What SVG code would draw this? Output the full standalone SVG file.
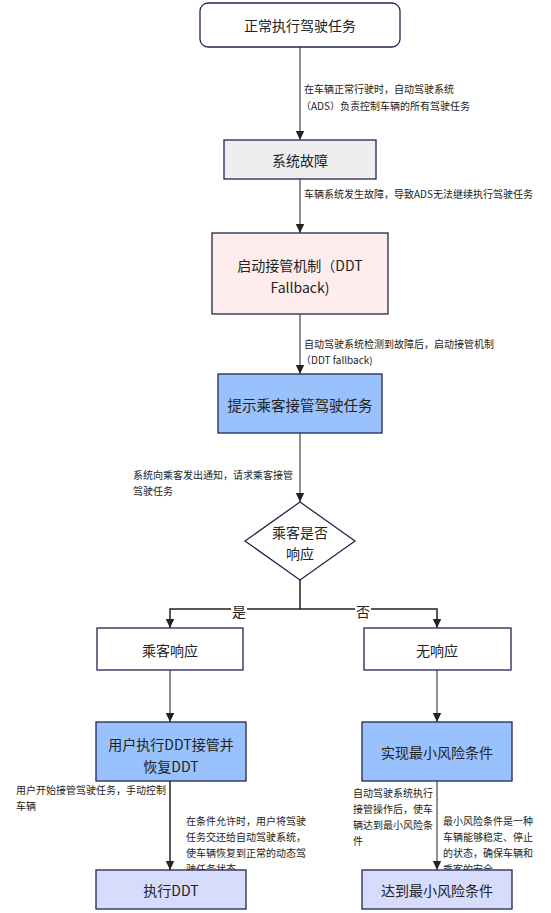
<svg xmlns="http://www.w3.org/2000/svg" width="551" height="913" viewBox="0 0 551 913">
<style>
.node{stroke:#23264f;stroke-width:1.3}
.t{font-family:"Noto Sans CJK SC","Noto Sans",sans-serif;font-size:14px;fill:#222;text-anchor:middle;dominant-baseline:central}
.l{font-family:"Noto Sans CJK SC","Noto Sans",sans-serif;font-size:10px;fill:#222;dominant-baseline:central}
.c{fill:none;stroke:#6b6b6b;stroke-width:1.5}
.ck{fill:none;stroke:#222;stroke-width:1.5}
</style>
<defs>
<marker id="ah" markerWidth="10" markerHeight="10" refX="9" refY="5" orient="auto" markerUnits="userSpaceOnUse">
<path d="M0,0.8 L9,5 L0,9.2 Z" fill="#222"/>
</marker>
</defs>
<rect width="551" height="913" fill="#fff"/>
<g id="connectors">
<path class="c" d="M300,47 V140" marker-end="url(#ah)"/>
<path class="c" d="M300,179 V233" marker-end="url(#ah)"/>
<path class="c" d="M300,314 V374" marker-end="url(#ah)"/>
<path class="c" d="M300,433 V502" marker-end="url(#ah)"/>
<path class="ck" d="M300,580 V609 H170 V628" marker-end="url(#ah)"/>
<path class="ck" d="M300,609 H437 V628" marker-end="url(#ah)"/>
<path class="c" d="M170,670 V722" marker-end="url(#ah)"/>
<path class="c" d="M437,670 V722" marker-end="url(#ah)"/>
<path class="ck" d="M170,781 V870" marker-end="url(#ah)"/>
<path class="c" d="M437,781 V870" marker-end="url(#ah)"/>
<rect x="231" y="603" width="16" height="16" fill="#fff"/>
<rect x="355" y="603" width="16" height="16" fill="#fff"/>
<text class="t" x="239" y="611">是</text>
<text class="t" x="363" y="611">否</text>
<text class="l" x="304" y="88">在车辆正常行驶时，自动驾驶系统</text>
<text class="l" x="301" y="105">（ADS）负责控制车辆的所有驾驶任务</text>
<text class="l" x="304" y="193">车辆系统发生故障，导致ADS无法继续执行驾驶任务</text>
<text class="l" x="304" y="343">自动驾驶系统检测到故障后，启动接管机制</text>
<text class="l" x="301" y="359">（DDT fallback)</text>
<text class="l" x="133" y="474">系统向乘客发出通知，请求乘客接管</text>
<text class="l" x="133" y="490">驾驶任务</text>
<text class="l" x="16" y="789">用户开始接管驾驶任务，手动控制</text>
<text class="l" x="16" y="805">车辆</text>
<text class="l" x="186" y="820">在条件允许时，用户将驾驶</text>
<text class="l" x="186" y="836">任务交还给自动驾驶系统，</text>
<text class="l" x="186" y="852">使车辆恢复到正常的动态驾</text>
<text class="l" x="186" y="868">驶任务状态</text>
<text class="l" x="353" y="792">自动驾驶系统执行</text>
<text class="l" x="353" y="808">接管操作后，使车</text>
<text class="l" x="353" y="824">辆达到最小风险条</text>
<text class="l" x="353" y="840">件</text>
<text class="l" x="443" y="820">最小风险条件是一种</text>
<text class="l" x="443" y="836">车辆能够稳定、停止</text>
<text class="l" x="443" y="852">的状态，确保车辆和</text>
<text class="l" x="443" y="868">乘客的安全</text>
</g>
<g id="n1">
<rect class="node" x="200" y="3" width="200" height="44" rx="8" fill="#fff"/>
<text class="t" x="300" y="25">正常执行驾驶任务</text>
</g>
<g id="n2">
<rect class="node" x="224" y="140" width="152" height="39" fill="#eeeeee"/>
<text class="t" x="300" y="160">系统故障</text>
</g>
<g id="n3">
<rect class="node" x="212" y="233" width="176" height="81" fill="#ffeded"/>
<text class="t" x="300" y="265">启动接管机制（DDT</text>
<text class="t" x="300" y="287">Fallback)</text>
</g>
<g id="n4">
<rect class="node" x="218" y="374" width="164" height="59" fill="#99c2fd"/>
<text class="t" x="300" y="404" style="font-size:14.5px">提示乘客接管驾驶任务</text>
</g>
<g id="n5">
<path class="node" d="M300,502 L355,541 L300,580 L245,541 Z" fill="#fff"/>
<text class="t" x="300" y="532">乘客是否</text>
<text class="t" x="300" y="553">响应</text>
</g>
<g id="n6">
<rect class="node" x="97" y="628" width="146" height="42" fill="#fff"/>
<text class="t" x="170" y="650">乘客响应</text>
</g>
<g id="n7">
<rect class="node" x="364" y="628" width="147" height="42" fill="#fff"/>
<text class="t" x="437" y="650">无响应</text>
</g>
<g id="n8">
<rect class="node" x="96" y="722" width="150" height="59" fill="#99c2fd"/>
<text class="t" x="171" y="744">用户执行DDT接管并</text>
<text class="t" x="171" y="766">恢复DDT</text>
</g>
<g id="n9">
<rect class="node" x="362" y="722" width="150" height="59" fill="#99c2fd"/>
<text class="t" x="437" y="752">实现最小风险条件</text>
</g>
<g id="n10">
<rect class="node" x="96" y="870" width="150" height="39" fill="#d7dbfc"/>
<text class="t" x="171" y="890">执行DDT</text>
</g>
<g id="n11">
<rect class="node" x="362" y="870" width="150" height="39" fill="#d7dbfc"/>
<text class="t" x="437" y="890">达到最小风险条件</text>
</g>
</svg>
